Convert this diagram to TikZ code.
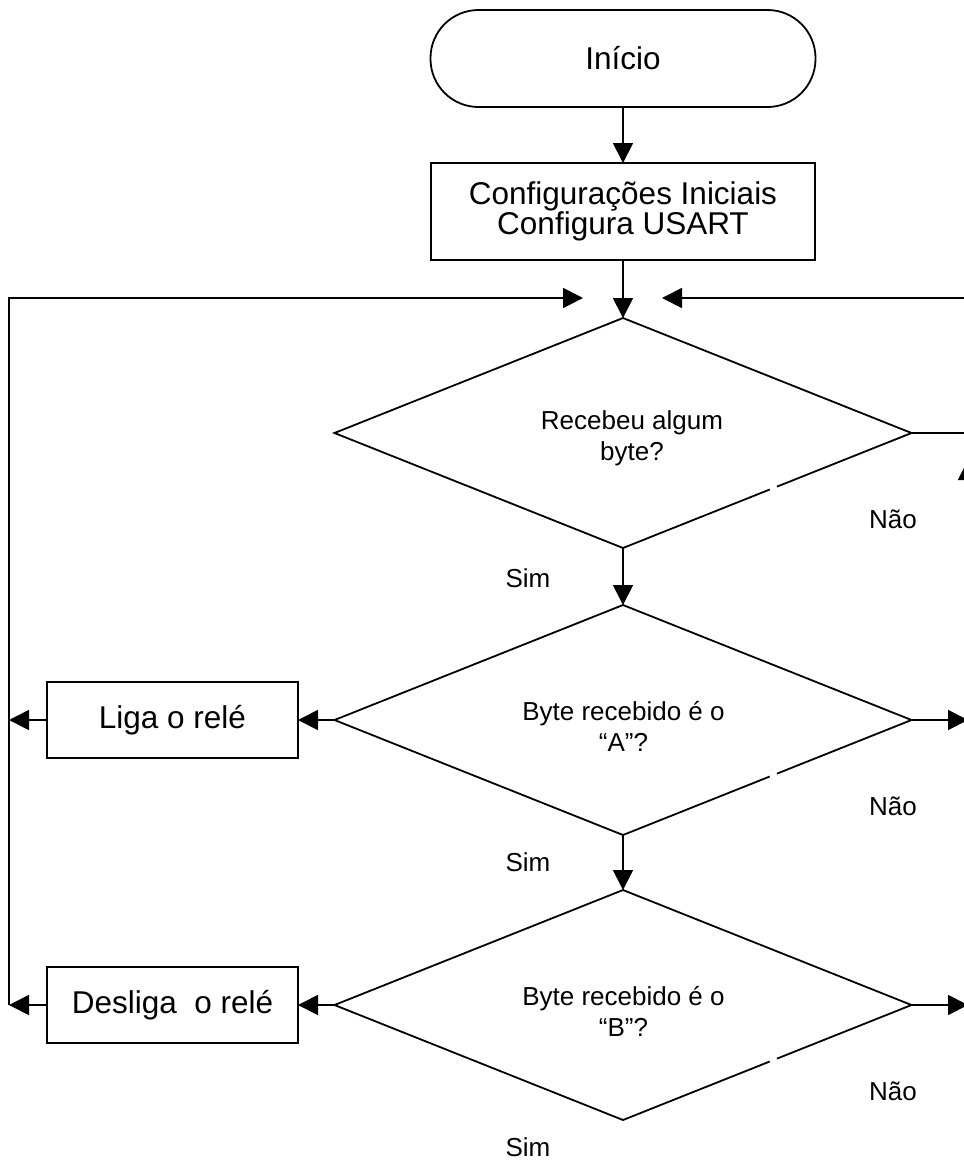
\documentclass[tikz,border=0pt]{standalone}
\usepackage{fontspec}
\setmainfont{Liberation Sans}
\usetikzlibrary{arrows.meta,shapes.geometric,calc}
\begin{document}
\begin{tikzpicture}[x=1pt,y=-1pt, line width=1.8pt,
 arr/.style={-{Triangle[length=20pt,width=20pt]}},
 bigtxt/.style={font=\fontsize{31.5}{29}\selectfont, align=center},
 smalltxt/.style={font=\fontsize{26}{31}\selectfont, align=center, inner sep=0pt},
 procbox/.style={draw, rectangle, outer sep=0pt, inner sep=0pt, bigtxt},
 decision/.style={draw, diamond, minimum width=577pt, minimum height=230pt, inner sep=0pt, outer sep=0pt},
 gap/.style={draw=white, line width=3.5pt}]
\useasboundingbox (0,0) rectangle (964,1160);
\clip (0,0) rectangle (964,1160);

% start / init
\node[draw, rounded corners=48pt, minimum width=385pt, minimum height=97pt, inner sep=0pt, outer sep=0pt, bigtxt] (start) at (623,58.5) {Início};
\node[procbox, minimum width=384pt, minimum height=97pt] (cfg) at (623,211.5) {Configurações Iniciais\\Configura USART};

% decisions
\node[decision] (d1) at (623,433) {};
\node[decision] (d2) at (623,720) {};
\node[decision] (d3) at (623,1005) {};
\node[smalltxt] (t1) at (632,438) {Recebeu algum\\byte?};
\node[smalltxt] (t2) at (623.5,726) {Byte recebido é o\\“A”?};
\node[smalltxt] (t3) at (623.5,1011) {Byte recebido é o\\“B”?};

% action boxes
\node[procbox, minimum width=251pt, minimum height=76pt] (liga) at (172.5,720) {Liga o relé};
\node[procbox, minimum width=251pt, minimum height=76pt] (desl) at (172.5,1005) {Desliga\ \ o relé};

% labels
\node[smalltxt] (s1) at (528,578) {Sim};
\node[smalltxt] (s2) at (528,862) {Sim};
\node[smalltxt] (s3) at (528,1147) {Sim};
\node[smalltxt] (n1) at (893,519) {Não};
\node[smalltxt] (n2) at (893,806) {Não};
\node[smalltxt] (n3) at (893,1091) {Não};

% coordinates
\coordinate (lt) at (9,298);
\coordinate (jl) at (583,298);
\coordinate (jr) at (662,298);
\coordinate (rt) at (990,298);
\coordinate (l2) at (9,720);
\coordinate (l3) at (9,1005);
\coordinate (r1) at (990,433);
\coordinate (r2) at (968,720);
\coordinate (r3) at (968,1005);
\coordinate (rv) at (968,540);
\coordinate (rvt) at (968,460);

% connectors
\draw[arr] (start) -- (cfg);
\draw[arr] (cfg) -- (d1.north);
\draw[arr] (d1.south) -- (d2.north);
\draw[arr] (d2.south) -- (d3.north);
\draw[arr] (d2.west) -- (liga.east);
\draw[arr] (d3.west) -- (desl.east);
\draw[arr] (liga.west) -- (l2);
\draw[arr] (desl.west) -- (l3);
\draw[arr] (l3) -- (lt) -- (jl);
\draw[arr] (rt) -- (jr);
\draw (d1.east) -- (r1);
\draw[arr] (d2.east) -- (r2);
\draw[arr] (d3.east) -- (r3);
\draw[arr] (rv) -- (rvt);

% small gaps in the diamond edges
\draw[gap] ($(d1.east)!0.467!(d1.south)$) -- ($(d1.east)!0.491!(d1.south)$);
\draw[gap] ($(d2.east)!0.467!(d2.south)$) -- ($(d2.east)!0.491!(d2.south)$);
\draw[gap] ($(d3.east)!0.467!(d3.south)$) -- ($(d3.east)!0.491!(d3.south)$);
\end{tikzpicture}
\end{document}
